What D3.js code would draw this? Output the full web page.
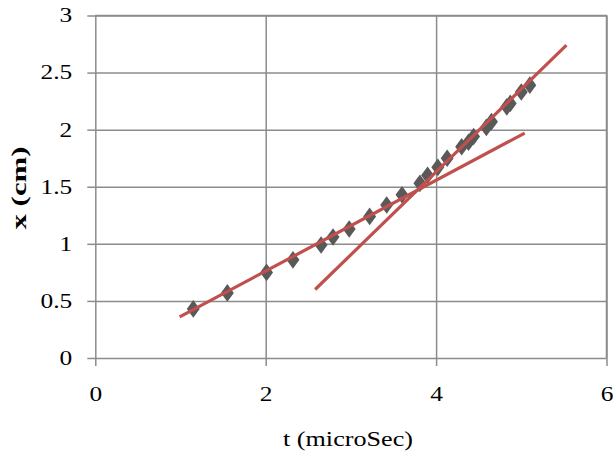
<!DOCTYPE html>
<html lang="en">
  <head>
    <meta charset="UTF-8" />
    <title>x vs t</title>
    <script src="https://d3js.org/d3.v7.min.js"></script>
    <style>
      body {
        margin: 0;
        padding: 0;
        background: #fff;
      }
      svg {
        display: block;
      }
      svg text {
        font-family: "Liberation Serif", "Times New Roman", Times, serif !important;
        fill: #000;
      }
      .axis text {
        font-size: 20px;
      }
      .axis line, .axis path {
        stroke: #8c8c8c;
        stroke-width: 1.5;
      }
      .fit {
        fill: none;
        stroke: #c0504d;
        stroke-width: 3.2;
      }
      .pt {
        fill: #595959;
      }
    </style>
  </head>
  <body>
    <script>
      // Measured points: t in microseconds, x in cm
      const tValues = [1.15, 1.55, 2.01, 2.32, 2.65, 2.79, 2.98, 3.22, 3.42, 3.60, 3.81, 3.90,
                       4.02, 4.13, 4.30, 4.38, 4.44, 4.59, 4.65, 4.83, 4.87, 5.00, 5.10];
      const xValues = [0.43, 0.57, 0.75, 0.86, 0.99, 1.06, 1.13, 1.24, 1.34, 1.43, 1.53, 1.60,
                       1.67, 1.75, 1.85, 1.89, 1.94, 2.02, 2.07, 2.20, 2.23, 2.33, 2.39];

      // Two straight fit lines (end points)
      const slowLine = [[0.99, 0.36], [5.04, 1.97]];
      const fastLine = [[2.58, 0.60], [5.53, 2.74]];

      const xTicks = [0, 2, 4, 6];
      const yTicks = [0, 0.5, 1, 1.5, 2, 2.5, 3];

      const width = 613, height = 458;
      const margin = { top: 15.5, right: 6.5, bottom: 100, left: 95.3 };
      const plotW = width - margin.left - margin.right;
      const plotH = height - margin.top - margin.bottom;
      const stretch = 1.27; // text in the picture is drawn wider than normal

      const svg = d3.select("body").append("svg")
                    .attr("width", width)
                    .attr("height", height)
                    .attr("font-family", "Liberation Serif");

      const xScale = d3.scaleLinear().domain([0, 6]).range([margin.left, width - margin.right]);
      const yScale = d3.scaleLinear().domain([0, 3]).range([margin.top + plotH, margin.top]);

      // Grid lines
      svg.append("g")
         .attr("class", "axis")
         .attr("transform", `translate(${margin.left},0)`)
         .call(d3.axisLeft(yScale).tickValues(yTicks).tickSize(-plotW).tickFormat(""))
         .call(g => g.select(".domain").remove());
      svg.append("g")
         .attr("class", "axis")
         .attr("transform", `translate(0,${margin.top + plotH})`)
         .call(d3.axisBottom(xScale).tickValues(xTicks).tickSize(plotH).tickFormat(""))
         .call(g => g.selectAll(".tick line").attr("y1", 0).attr("y2", -plotH))
         .call(g => g.select(".domain").remove());

      // Axes with outside ticks and labels
      svg.append("g")
         .attr("class", "axis")
         .attr("transform", `translate(${margin.left},0)`)
         .call(d3.axisLeft(yScale).tickValues(yTicks).tickSize(8).tickPadding(15).tickFormat(d3.format("")))
         .call(g => g.select(".domain").remove())
         .call(g => g.selectAll(".tick text")
                     .attr("transform", `scale(${stretch},1)`)
                     .attr("x", -23 / stretch));
      svg.append("g")
         .attr("class", "axis")
         .attr("transform", `translate(0,${margin.top + plotH})`)
         .call(d3.axisBottom(xScale).tickValues(xTicks).tickSize(8).tickFormat(d3.format("")))
         .call(g => g.select(".domain").remove())
         .call(g => g.selectAll(".tick text")
                     .attr("transform", `scale(${stretch},1)`)
                     .attr("y", 38).attr("dy", 0).attr("dominant-baseline", "middle"));

      // Frame on top and right
      svg.append("g").attr("class", "axis")
         .append("path")
         .attr("d", `M${margin.left},${margin.top}H${width - margin.right}V${margin.top + plotH}`)
         .attr("fill", "none");

      // Fit lines
      const line = d3.line().x(d => xScale(d[0])).y(d => yScale(d[1]));

      // Data points
      const points = tValues.map((t, i) => [t, xValues[i]]);
      svg.append("g").selectAll("path")
         .data(points)
         .join("path")
         .attr("class", "pt")
         .attr("d", d3.symbol(d3.symbolDiamond, 90))
         .attr("transform", d => `translate(${xScale(d[0])},${yScale(d[1])}) scale(${stretch},1)`);

      svg.append("path").attr("class", "fit").attr("d", line(slowLine));
      svg.append("path").attr("class", "fit").attr("d", line(fastLine));

      // Axis titles
      svg.append("text")
         .attr("x", 348).attr("y", 441)
         .attr("text-anchor", "middle")
         .attr("dominant-baseline", "middle")
         .attr("font-size", 21)
         .attr("textLength", 130)
         .attr("lengthAdjust", "spacingAndGlyphs")
         .text("t (microSec)");

      svg.append("text")
         .attr("transform", "translate(21,188) rotate(-90)")
         .attr("text-anchor", "middle")
         .attr("dominant-baseline", "middle")
         .attr("font-size", 22)
         .attr("font-weight", "bold")
         .attr("textLength", 83)
         .attr("lengthAdjust", "spacingAndGlyphs")
         .text("x (cm)");
    </script>
  </body>
</html>
